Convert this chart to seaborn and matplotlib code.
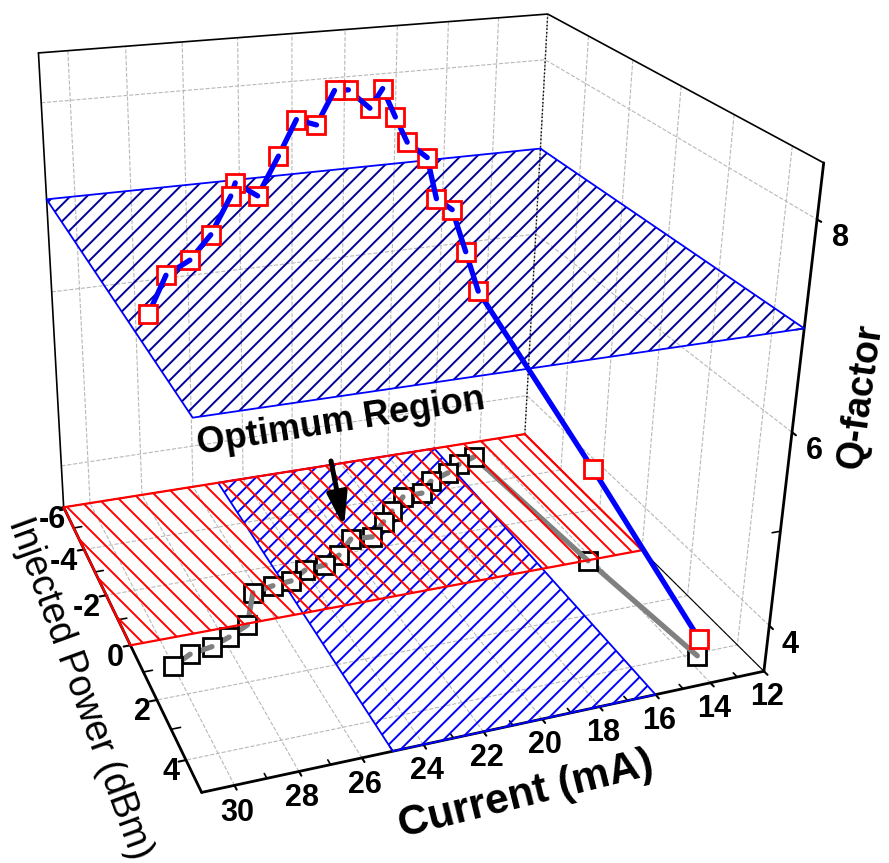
import numpy as np
import matplotlib
matplotlib.use('Agg')
import matplotlib.hatch as mhatch
import matplotlib.pyplot as plt
import seaborn as sns
from mpl_toolkits.mplot3d.art3d import Poly3DCollection

# values
current = [30.0, 29.3, 28.5, 27.8, 27.0, 26.2, 25.4, 24.7, 24.0, 23.2, 22.5, 21.7,
           20.9, 20.1, 19.5, 18.7, 17.9, 17.2, 16.3, 15.6, 14.8, 14.2, 13.6]
current_top = [30.44, 29.74, 28.94, 28.17, 27.37, 26.64, 25.84, 25.11, 24.33, 23.61, 22.83, 22.0,
               21.27, 20.47, 19.72, 18.89, 18.09, 17.35, 16.52, 15.67, 14.91, 14.27, 13.6]
power = [0.99, 0.7, 0.58, 0.36, 0.05, -1.1, -1.23, -1.29, -1.61, -1.68, -1.97, -2.54,
         -2.48, -3.03, -3.43, -3.97, -4.0, -4.47, -4.73, -5.05, -5.28, 0.02, 4.08]
qfactor = [7.07, 7.35, 7.44, 7.61, 7.89, 7.81, 7.64, 7.99, 8.27, 8.19, 8.46, 8.37,
           8.18, 8.28, 7.92, 7.56, 7.37, 6.83, 6.64, 6.08, 5.55, 4.57, 3.69]

current_ticks = list(range(12, 31, 2))
power_ticks = list(range(-6, 5, 2))
power_labels = ['-6', '-4 ', '-2 ', '0 ', '2 ', '4 ']
q_ticks = [4, 6, 8]
current_lim = (12, 31)
power_lim = (-6, 5)
q_lim = (3.5, 8.5)
q_threshold = 7
current_window = (16, 25)
power_window = (-6, 0)

W, H = 889, 863
sns.set_style('white')
plt.rcParams['font.family'] = ['Liberation Sans', 'DejaVu Sans']
plt.rcParams['font.weight'] = 'bold'
plt.rcParams['text.color'] = 'black'
plt.rcParams['axes.labelcolor'] = 'black'
plt.rcParams['axes.unicode_minus'] = False
plt.rcParams['hatch.linewidth'] = 1.4


# the red hatch is wider than the blue one, density is fixed otherwise
class WideSouthEast(mhatch.SouthEastHatch):
    def __init__(self, hatch, density):
        super().__init__(hatch, density)
        if self.num_lines:
            self.num_lines = 10
            self.num_vertices = 22


mhatch._hatch_types[mhatch._hatch_types.index(mhatch.SouthEastHatch)] = WideSouthEast

fig = plt.figure(figsize=(W / 100, H / 100), dpi=100)
side = 5011.39 * 0.185
ax = fig.add_axes([(395.23 - 0.5135 * side) / W, (505.97 - 0.5135 * side) / H, side / W, side / H],
                  projection='3d', computed_zorder=False)
ax.set_xlim(*current_lim, view_margin=0)
ax.set_ylim(*power_lim, view_margin=0)
ax.set_zlim(*q_lim, view_margin=0)
ax.set_proj_type('persp', focal_length=0.382)
ax.view_init(23.958, 68.02, -1.342)
ax.set_box_aspect((1.094, 1.062, 1.0))

ax.set_xticks(current_ticks)
ax.set_yticks(power_ticks, power_labels, ha='right')
ax.set_zticks(q_ticks)
ax.tick_params(labelsize=22, colors='black')
ax.tick_params(axis='x', pad=-3)
ax.tick_params(axis='y', pad=-9.5)
ax.tick_params(axis='z', pad=1)
ax.zaxis.set_ticks_position('upper')

for axis in (ax.xaxis, ax.yaxis, ax.zaxis):
    axis.set_pane_color((1, 1, 1, 0))
    axis.pane.set_edgecolor((1, 1, 1, 0))
    axis.line.set_linewidth(2.0)
    axis.line.set_color('black')
    axis._axinfo['grid'].update(color='#b8b8b8', linewidth=0.8, linestyle='--')
    axis._axinfo['tick'].update(inward_factor=0.15, outward_factor=0.0)
    axis._axinfo['tick']['linewidth'] = {True: 1.5, False: 1.2}

# axis titles placed on the figure, they do not sit at the middle of the edges
fig.text(526 / W, 1 - 795 / H, 'Current (mA)', fontsize=30.5, fontweight='bold', rotation=14,
         ha='center', va='center', rotation_mode='anchor')
fig.text(80 / W, 1 - 688 / H, 'Injected Power (dBm)', fontsize=27, fontweight='normal', rotation=-70,
         ha='center', va='center', rotation_mode='anchor')
fig.text(861 / W, 1 - 396 / H, 'Q-factor', fontsize=27, fontweight='bold', rotation=82,
         ha='center', va='center', rotation_mode='anchor')

c0, c1 = current_lim
p0, p1 = power_lim
floor, roof = q_lim

# box edges
ax.plot([c1, c1], [p0, p0], [floor, roof], color='k', lw=1.2, zorder=0)
ax.plot([c1, c0, c0], [p0, p0, p1], [roof, roof, roof], color='k', lw=1.2, zorder=0)
ax.plot([c1, c0, c0], [p0, p0, p1], [floor, floor, floor], color='k', lw=0.8, zorder=0)
ax.plot([c0, c0], [p0, p0], [floor, roof], color='k', lw=1.0, ls=':', zorder=0)

# minor ticks, no grid on them
for c in range(13, 31, 2):
    ax.plot([c, c], [p1, p1 - 0.15], [floor, floor], color='k', lw=1.2, zorder=0)
for p in range(-5, 5, 2):
    ax.plot([c1, c1 - 0.3], [p, p], [floor, floor], color='k', lw=1.2, zorder=0)
for q in (5, 7):
    ax.plot([c0, c0 + 0.3], [p1, p1], [q, q], color='k', lw=1.2, zorder=0)


def hatched(corners, hatch, hatch_color, edge_color, lw, zorder):
    ax.add_collection3d(Poly3DCollection([corners], facecolors=[(1, 1, 1, 0)], edgecolors=hatch_color,
                                         hatch=hatch, linewidths=0, zorder=zorder), autolim=False)
    xs, ys, zs = zip(*(corners + corners[:1]))
    ax.plot(xs, ys, zs, color=edge_color, lw=lw, zorder=zorder)


hatched([(current_window[0], p0, floor), (current_window[1], p0, floor),
         (current_window[1], p1, floor), (current_window[0], p1, floor)],
        '//', '#0000ff', '#0000ff', 1.3, 1)


def curve(xs, zs, line_color, marker_color, base):
    n = len(xs)
    z = base
    for i in range(n - 1, -1, -1):
        top = 300 if (marker_color == 'red' and i >= n - 2) else z
        ax.plot([xs[i]], [power[i]], [zs[i]], ls='none', marker='s', ms=13, mew=2.0,
                mec=marker_color, mfc='white', zorder=top)
        z += 1
        if i > 0:
            ax.plot(xs[i - 1:i + 1], power[i - 1:i + 1], zs[i - 1:i + 1], color=line_color,
                    lw=3.8, solid_capstyle='round', zorder=z)
            z += 1


curve(current, [floor] * len(current), '#808080', 'black', 10)

hatched([(c0, power_window[0], floor), (c1, power_window[0], floor),
         (c1, power_window[1], floor), (c0, power_window[1], floor)],
        '\\', '#ff0000', '#ff0000', 1.6, 100)

hatched([(c0, p0, q_threshold), (c1, p0, q_threshold),
         (c1, p1, q_threshold), (c0, p1, q_threshold)],
        '//', '#000099', '#0000ff', 1.3, 110)

curve(current_top, qfactor, '#0000ff', 'red', 120)

fig.text(341 / W, 1 - 422 / H, 'Optimum Region', fontsize=26, rotation=9, ha='center', va='center')
ax.annotate('', xy=(344, H - 527), xytext=(331, H - 461), xycoords='figure pixels',
            textcoords='figure pixels', zorder=400,
            arrowprops=dict(arrowstyle='-|>,head_length=20,head_width=6', mutation_scale=1,
                            color='black', lw=3.6, shrinkA=0, shrinkB=0))

fig.savefig('out.png', dpi=100)
